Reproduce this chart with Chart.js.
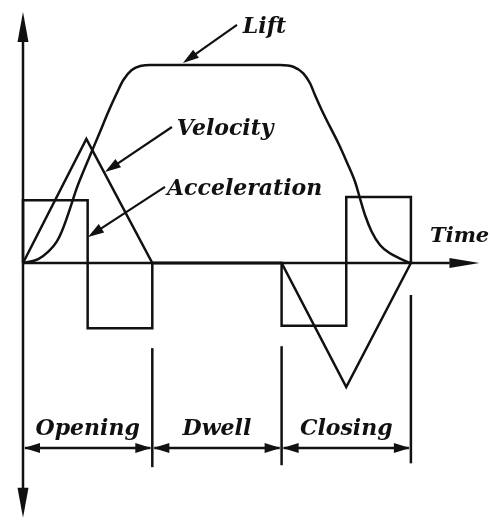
<!DOCTYPE html>
<html>
<head>
<meta charset="utf-8">
<script src="https://cdn.jsdelivr.net/npm/chart.js@4/dist/chart.umd.min.js"></script>
<style>
  html, body { margin: 0; padding: 0; background: #fff; }
  #wrap { width: 490px; height: 520px; }
</style>
</head>
<body>
<div id="wrap"><canvas id="c" width="490" height="520"></canvas></div>
<script>
// ---------- data (time in phase units, values in relative units) ----------
const phaseLabels = ['Opening', 'Dwell', 'Closing'];
const phaseBounds = [0, 1, 2, 3];
const curveLabels = ['Lift', 'Velocity', 'Acceleration'];
const axisLabel = 'Time';

const liftTime  = [0, 0.118, 0.196, 0.261, 0.299, 0.338, 0.377, 0.415, 0.466, 0.531, 0.596, 0.660, 0.725, 0.776,
                   0.841, 0.918, 0.982,
                   1.988, 2.090, 2.168, 2.220, 2.258, 2.310, 2.374, 2.439, 2.503, 2.568, 2.606, 2.645, 2.697,
                   2.761, 2.838, 2.916, 2.993];
const liftValue = [0, 0.062, 0.177, 0.333, 0.489, 0.698, 0.933, 1.167, 1.427, 1.739, 2.052, 2.364, 2.652, 2.859,
                   3.016, 3.083, 3.094,
                   3.094, 3.067, 2.964, 2.808, 2.625, 2.391, 2.130, 1.870, 1.583, 1.270, 1.011, 0.750, 0.489,
                   0.281, 0.152, 0.070, 0];

const velocityTime  = [0, 0.49, 1, 2, 2.5, 3];
const velocityValue = [0, 1.94, 0, 0, -1.94, 0];

const accelTime  = [0, 0, 0.5, 0.5, 1, 1, 2, 2, 2.5, 2.5, 3, 3];
const accelValue = [0, 0.98, 0.98, -1.02, -1.02, 0, 0, -0.98, -0.98, 1.03, 1.03, 0];

const toPts = (xs, ys) => xs.map((x, i) => ({ x: x, y: ys[i] }));

// ---------- drawing helpers ----------
const INK = '#111';
const LABEL_FONT = "italic bold 22px 'DejaVu Serif', 'Liberation Serif', serif";

function arrowHead(ctx, x0, y0, x1, y1, len, half) {
  const a = Math.atan2(y1 - y0, x1 - x0);
  ctx.beginPath();
  ctx.moveTo(x1, y1);
  ctx.lineTo(x1 - len * Math.cos(a) + half * Math.sin(a), y1 - len * Math.sin(a) - half * Math.cos(a));
  ctx.lineTo(x1 - len * Math.cos(a) - half * Math.sin(a), y1 - len * Math.sin(a) + half * Math.cos(a));
  ctx.closePath();
  ctx.fill();
}

function line(ctx, x0, y0, x1, y1) {
  ctx.beginPath();
  ctx.moveTo(x0, y0);
  ctx.lineTo(x1, y1);
  ctx.stroke();
}

const diagramPlugin = {
  id: 'diagram',
  afterDatasetsDraw(chart) {
    const ctx = chart.ctx;
    const xs = chart.scales.x, ys = chart.scales.y;
    const px = t => xs.getPixelForValue(t);
    const py = v => ys.getPixelForValue(v);
    ctx.save();
    ctx.strokeStyle = INK;
    ctx.fillStyle = INK;
    ctx.lineWidth = 2.5;
    ctx.lineCap = 'butt';

    // vertical axis with arrows at both ends
    line(ctx, px(0), py(3.6), px(0), py(-3.6));
    arrowHead(ctx, px(0), py(0), px(0), py(3.92), 30, 5.5);
    arrowHead(ctx, px(0), py(0), px(0), py(-3.98), 30, 5.5);
    // horizontal (time) axis
    line(ctx, px(0), py(0), px(3.3), py(0));
    arrowHead(ctx, px(0), py(0), px(3.53), py(0), 30, 5);

    // phase boundary lines
    const bTop = [null, -1.33, -1.30, -0.50];
    const bBot = [null, -3.19, -3.16, -3.13];
    for (let i = 1; i < phaseBounds.length; i++) {
      line(ctx, px(phaseBounds[i]), py(bTop[i]), px(phaseBounds[i]), py(bBot[i]));
    }
    // dimension arrows and labels
    const dimY = py(-2.89);
    ctx.font = LABEL_FONT;
    ctx.textAlign = 'center';
    ctx.textBaseline = 'alphabetic';
    for (let i = 0; i < phaseLabels.length; i++) {
      const a = px(phaseBounds[i]), b = px(phaseBounds[i + 1]);
      const mid = (a + b) / 2;
      line(ctx, a + 2, dimY, b - 2, dimY);
      arrowHead(ctx, mid, dimY, a + 1, dimY, 16, 5);
      arrowHead(ctx, mid, dimY, b - 1, dimY, 16, 5);
      ctx.fillText(phaseLabels[i], mid, py(-2.68));
    }

    // axis label
    ctx.textAlign = 'left';
    ctx.font = "italic bold 21px 'DejaVu Serif', 'Liberation Serif', serif";
    ctx.fillText(axisLabel, px(3.148), py(0.33));
    ctx.font = LABEL_FONT;

    // curve callouts: [label start t, baseline v, leader from (t,v), to (t,v)]
    const callouts = [
      [1.70, 3.59, 1.655, 3.72, 1.237, 3.125],
      [1.19, 2.00, 1.152, 2.125, 0.634, 1.42],
      [1.114, 1.06, 1.098, 1.19, 0.503, 0.406]
    ];
    ctx.lineWidth = 2.2;
    callouts.forEach((c, i) => {
      ctx.fillText(curveLabels[i], px(c[0]), py(c[1]));
      const x0 = px(c[2]), y0 = py(c[3]), x1 = px(c[4]), y1 = py(c[5]);
      const a = Math.atan2(y1 - y0, x1 - x0);
      line(ctx, x0, y0, x1 - 8 * Math.cos(a), y1 - 8 * Math.sin(a));
      arrowHead(ctx, x0, y0, x1, y1, 16, 5);
    });
    ctx.restore();
  }
};

const common = { showLine: true, pointRadius: 0, pointHoverRadius: 0, borderColor: INK, borderWidth: 2.5, fill: false, clip: false };

new Chart(document.getElementById('c'), {
  type: 'scatter',
  data: {
    datasets: [
      Object.assign({ label: curveLabels[0], data: toPts(liftTime, liftValue), cubicInterpolationMode: 'monotone' }, common),
      Object.assign({ label: curveLabels[1], data: toPts(velocityTime, velocityValue), tension: 0 }, common),
      Object.assign({ label: curveLabels[2], data: toPts(accelTime, accelValue), tension: 0 }, common)
    ]
  },
  options: {
    responsive: false,
    animation: false,
    devicePixelRatio: 1,
    layout: { padding: 0 },
    plugins: { legend: { display: false }, tooltip: { enabled: false }, title: { display: false } },
    events: [],
    scales: {
      x: { type: 'linear', display: false, min: -23 / 129.3, max: (490 - 23) / 129.3 },
      y: { type: 'linear', display: false, min: -(520 - 263) / 64, max: 263 / 64 }
    }
  },
  plugins: [diagramPlugin]
});
</script>
</body>
</html>
